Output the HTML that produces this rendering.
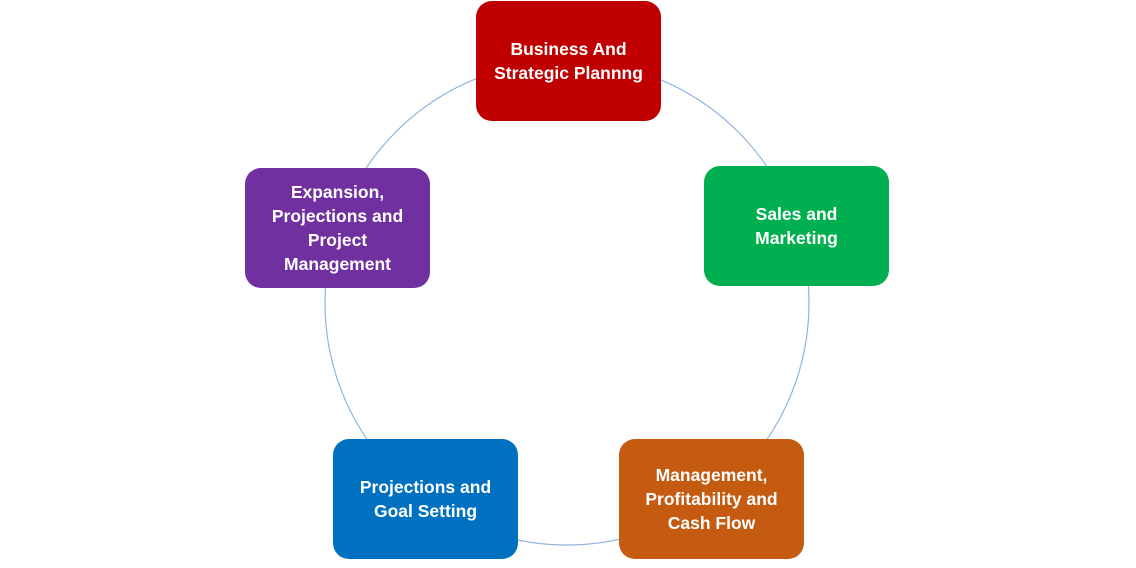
<!DOCTYPE html>
<html><head><style>
html,body{margin:0;padding:0;background:#fff;}
body{width:1136px;height:568px;position:relative;overflow:hidden;font-family:"Liberation Sans",sans-serif;}
.b{position:absolute;width:185px;height:120px;border-radius:16px;color:#fff;font-weight:bold;font-size:17.5px;line-height:24px;display:flex;align-items:center;justify-content:center;text-align:center;}
svg{position:absolute;left:0;top:0;}
</style></head><body>
<svg width="1136" height="568"><circle cx="567" cy="303" r="242" fill="none" stroke="#8FB4E0" stroke-width="1.2"/></svg>
<div class="b" style="left:476px;top:1px;background:#C00000">Business And<br>Strategic Plannng</div>
<div class="b" style="left:704px;top:166px;background:#00B050">Sales and<br>Marketing</div>
<div class="b" style="left:619px;top:439px;background:#C55A11">Management,<br>Profitability and<br>Cash Flow</div>
<div class="b" style="left:333px;top:439px;background:#0070C0">Projections and<br>Goal Setting</div>
<div class="b" style="left:245px;top:168px;background:#7030A0">Expansion,<br>Projections and<br>Project<br>Management</div>
</body></html>
